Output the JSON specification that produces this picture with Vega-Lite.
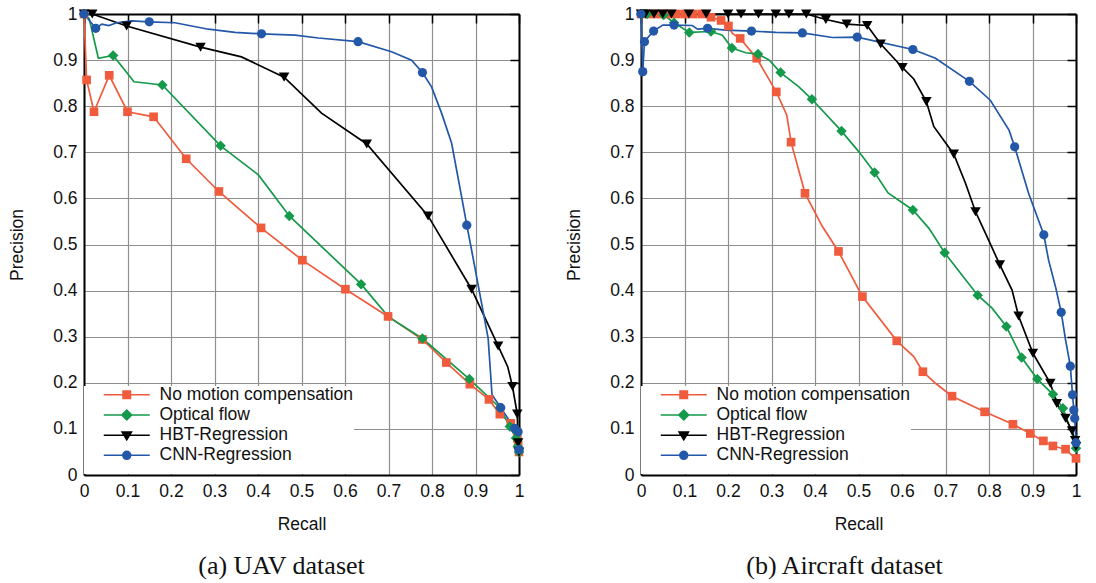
{
  "$schema": "https://vega.github.io/schema/vega-lite/v6.json",
  "background": "white",
  "padding": {"left": 8, "top": 5, "right": 5, "bottom": 5},
  "datasets": {
    "uav": [
      {"method": "No motion compensation", "recall": 0, "precision": 1, "marker": 1},
      {"method": "No motion compensation", "recall": 0.006, "precision": 0.857, "marker": 1},
      {"method": "No motion compensation", "recall": 0.023, "precision": 0.788, "marker": 1},
      {"method": "No motion compensation", "recall": 0.058, "precision": 0.867, "marker": 1},
      {"method": "No motion compensation", "recall": 0.1, "precision": 0.788, "marker": 1},
      {"method": "No motion compensation", "recall": 0.16, "precision": 0.777, "marker": 1},
      {"method": "No motion compensation", "recall": 0.235, "precision": 0.686, "marker": 1},
      {"method": "No motion compensation", "recall": 0.31, "precision": 0.615, "marker": 1},
      {"method": "No motion compensation", "recall": 0.407, "precision": 0.536, "marker": 1},
      {"method": "No motion compensation", "recall": 0.502, "precision": 0.466, "marker": 1},
      {"method": "No motion compensation", "recall": 0.601, "precision": 0.403, "marker": 1},
      {"method": "No motion compensation", "recall": 0.699, "precision": 0.344, "marker": 1},
      {"method": "No motion compensation", "recall": 0.778, "precision": 0.294, "marker": 1},
      {"method": "No motion compensation", "recall": 0.833, "precision": 0.244, "marker": 1},
      {"method": "No motion compensation", "recall": 0.887, "precision": 0.197, "marker": 1},
      {"method": "No motion compensation", "recall": 0.931, "precision": 0.164, "marker": 1},
      {"method": "No motion compensation", "recall": 0.956, "precision": 0.132, "marker": 1},
      {"method": "No motion compensation", "recall": 0.981, "precision": 0.112, "marker": 1},
      {"method": "No motion compensation", "recall": 0.996, "precision": 0.08, "marker": 1},
      {"method": "No motion compensation", "recall": 0.998, "precision": 0.065, "marker": 1},
      {"method": "No motion compensation", "recall": 1, "precision": 0.05, "marker": 1},
      {"method": "Optical flow", "recall": 0, "precision": 1, "marker": 1},
      {"method": "Optical flow", "recall": 0.012, "precision": 0.99, "marker": 0},
      {"method": "Optical flow", "recall": 0.033, "precision": 0.904, "marker": 0},
      {"method": "Optical flow", "recall": 0.067, "precision": 0.91, "marker": 1},
      {"method": "Optical flow", "recall": 0.115, "precision": 0.853, "marker": 0},
      {"method": "Optical flow", "recall": 0.18, "precision": 0.846, "marker": 1},
      {"method": "Optical flow", "recall": 0.314, "precision": 0.714, "marker": 1},
      {"method": "Optical flow", "recall": 0.401, "precision": 0.651, "marker": 0},
      {"method": "Optical flow", "recall": 0.472, "precision": 0.562, "marker": 1},
      {"method": "Optical flow", "recall": 0.637, "precision": 0.414, "marker": 1},
      {"method": "Optical flow", "recall": 0.7, "precision": 0.343, "marker": 0},
      {"method": "Optical flow", "recall": 0.778, "precision": 0.296, "marker": 1},
      {"method": "Optical flow", "recall": 0.886, "precision": 0.208, "marker": 1},
      {"method": "Optical flow", "recall": 0.956, "precision": 0.146, "marker": 1},
      {"method": "Optical flow", "recall": 0.979, "precision": 0.105, "marker": 1},
      {"method": "Optical flow", "recall": 0.993, "precision": 0.08, "marker": 1},
      {"method": "Optical flow", "recall": 0.997, "precision": 0.062, "marker": 1},
      {"method": "Optical flow", "recall": 1, "precision": 0.05, "marker": 1},
      {"method": "HBT-Regression", "recall": 0, "precision": 1, "marker": 1},
      {"method": "HBT-Regression", "recall": 0.019, "precision": 1, "marker": 1},
      {"method": "HBT-Regression", "recall": 0.098, "precision": 0.974, "marker": 1},
      {"method": "HBT-Regression", "recall": 0.268, "precision": 0.928, "marker": 1},
      {"method": "HBT-Regression", "recall": 0.362, "precision": 0.907, "marker": 0},
      {"method": "HBT-Regression", "recall": 0.46, "precision": 0.863, "marker": 1},
      {"method": "HBT-Regression", "recall": 0.546, "precision": 0.785, "marker": 0},
      {"method": "HBT-Regression", "recall": 0.65, "precision": 0.718, "marker": 1},
      {"method": "HBT-Regression", "recall": 0.791, "precision": 0.562, "marker": 1},
      {"method": "HBT-Regression", "recall": 0.891, "precision": 0.403, "marker": 1},
      {"method": "HBT-Regression", "recall": 0.952, "precision": 0.28, "marker": 1},
      {"method": "HBT-Regression", "recall": 0.974, "precision": 0.235, "marker": 0},
      {"method": "HBT-Regression", "recall": 0.985, "precision": 0.192, "marker": 1},
      {"method": "HBT-Regression", "recall": 0.996, "precision": 0.132, "marker": 1},
      {"method": "HBT-Regression", "recall": 0.998, "precision": 0.07, "marker": 1},
      {"method": "HBT-Regression", "recall": 1, "precision": 0.05, "marker": 1},
      {"method": "CNN-Regression", "recall": 0, "precision": 1, "marker": 1},
      {"method": "CNN-Regression", "recall": 0.027, "precision": 0.969, "marker": 1},
      {"method": "CNN-Regression", "recall": 0.041, "precision": 0.978, "marker": 0},
      {"method": "CNN-Regression", "recall": 0.057, "precision": 0.975, "marker": 0},
      {"method": "CNN-Regression", "recall": 0.075, "precision": 0.981, "marker": 0},
      {"method": "CNN-Regression", "recall": 0.11, "precision": 0.985, "marker": 0},
      {"method": "CNN-Regression", "recall": 0.15, "precision": 0.983, "marker": 1},
      {"method": "CNN-Regression", "recall": 0.209, "precision": 0.981, "marker": 0},
      {"method": "CNN-Regression", "recall": 0.286, "precision": 0.967, "marker": 0},
      {"method": "CNN-Regression", "recall": 0.347, "precision": 0.96, "marker": 0},
      {"method": "CNN-Regression", "recall": 0.408, "precision": 0.957, "marker": 1},
      {"method": "CNN-Regression", "recall": 0.485, "precision": 0.954, "marker": 0},
      {"method": "CNN-Regression", "recall": 0.539, "precision": 0.948, "marker": 0},
      {"method": "CNN-Regression", "recall": 0.63, "precision": 0.94, "marker": 1},
      {"method": "CNN-Regression", "recall": 0.707, "precision": 0.918, "marker": 0},
      {"method": "CNN-Regression", "recall": 0.753, "precision": 0.9, "marker": 0},
      {"method": "CNN-Regression", "recall": 0.778, "precision": 0.873, "marker": 1},
      {"method": "CNN-Regression", "recall": 0.799, "precision": 0.842, "marker": 0},
      {"method": "CNN-Regression", "recall": 0.822, "precision": 0.785, "marker": 0},
      {"method": "CNN-Regression", "recall": 0.845, "precision": 0.72, "marker": 0},
      {"method": "CNN-Regression", "recall": 0.868, "precision": 0.604, "marker": 0},
      {"method": "CNN-Regression", "recall": 0.88, "precision": 0.542, "marker": 1},
      {"method": "CNN-Regression", "recall": 0.891, "precision": 0.488, "marker": 0},
      {"method": "CNN-Regression", "recall": 0.929, "precision": 0.297, "marker": 0},
      {"method": "CNN-Regression", "recall": 0.938, "precision": 0.174, "marker": 0},
      {"method": "CNN-Regression", "recall": 0.958, "precision": 0.146, "marker": 1},
      {"method": "CNN-Regression", "recall": 0.99, "precision": 0.101, "marker": 1},
      {"method": "CNN-Regression", "recall": 0.998, "precision": 0.094, "marker": 1},
      {"method": "CNN-Regression", "recall": 0.999, "precision": 0.07, "marker": 0},
      {"method": "CNN-Regression", "recall": 1, "precision": 0.055, "marker": 1}
    ],
    "aircraft": [
      {"method": "No motion compensation", "recall": 0, "precision": 1, "marker": 1},
      {"method": "No motion compensation", "recall": 0.02, "precision": 1, "marker": 1},
      {"method": "No motion compensation", "recall": 0.04, "precision": 1, "marker": 1},
      {"method": "No motion compensation", "recall": 0.06, "precision": 1, "marker": 1},
      {"method": "No motion compensation", "recall": 0.08, "precision": 1, "marker": 1},
      {"method": "No motion compensation", "recall": 0.1, "precision": 1, "marker": 1},
      {"method": "No motion compensation", "recall": 0.12, "precision": 1, "marker": 1},
      {"method": "No motion compensation", "recall": 0.14, "precision": 1, "marker": 1},
      {"method": "No motion compensation", "recall": 0.161, "precision": 0.993, "marker": 1},
      {"method": "No motion compensation", "recall": 0.184, "precision": 0.986, "marker": 1},
      {"method": "No motion compensation", "recall": 0.201, "precision": 0.974, "marker": 1},
      {"method": "No motion compensation", "recall": 0.21, "precision": 0.958, "marker": 0},
      {"method": "No motion compensation", "recall": 0.228, "precision": 0.947, "marker": 1},
      {"method": "No motion compensation", "recall": 0.266, "precision": 0.904, "marker": 1},
      {"method": "No motion compensation", "recall": 0.311, "precision": 0.831, "marker": 1},
      {"method": "No motion compensation", "recall": 0.335, "precision": 0.781, "marker": 0},
      {"method": "No motion compensation", "recall": 0.345, "precision": 0.722, "marker": 1},
      {"method": "No motion compensation", "recall": 0.377, "precision": 0.611, "marker": 1},
      {"method": "No motion compensation", "recall": 0.417, "precision": 0.539, "marker": 0},
      {"method": "No motion compensation", "recall": 0.454, "precision": 0.485, "marker": 1},
      {"method": "No motion compensation", "recall": 0.509, "precision": 0.387, "marker": 1},
      {"method": "No motion compensation", "recall": 0.588, "precision": 0.291, "marker": 1},
      {"method": "No motion compensation", "recall": 0.627, "precision": 0.257, "marker": 0},
      {"method": "No motion compensation", "recall": 0.648, "precision": 0.224, "marker": 1},
      {"method": "No motion compensation", "recall": 0.677, "precision": 0.199, "marker": 0},
      {"method": "No motion compensation", "recall": 0.715, "precision": 0.171, "marker": 1},
      {"method": "No motion compensation", "recall": 0.79, "precision": 0.137, "marker": 1},
      {"method": "No motion compensation", "recall": 0.855, "precision": 0.11, "marker": 1},
      {"method": "No motion compensation", "recall": 0.895, "precision": 0.09, "marker": 1},
      {"method": "No motion compensation", "recall": 0.925, "precision": 0.074, "marker": 1},
      {"method": "No motion compensation", "recall": 0.947, "precision": 0.063, "marker": 1},
      {"method": "No motion compensation", "recall": 0.976, "precision": 0.056, "marker": 1},
      {"method": "No motion compensation", "recall": 0.987, "precision": 0.046, "marker": 0},
      {"method": "No motion compensation", "recall": 1, "precision": 0.036, "marker": 1},
      {"method": "Optical flow", "recall": 0, "precision": 1, "marker": 1},
      {"method": "Optical flow", "recall": 0.014, "precision": 1, "marker": 1},
      {"method": "Optical flow", "recall": 0.052, "precision": 0.998, "marker": 1},
      {"method": "Optical flow", "recall": 0.076, "precision": 0.981, "marker": 1},
      {"method": "Optical flow", "recall": 0.111, "precision": 0.96, "marker": 1},
      {"method": "Optical flow", "recall": 0.161, "precision": 0.962, "marker": 1},
      {"method": "Optical flow", "recall": 0.187, "precision": 0.954, "marker": 0},
      {"method": "Optical flow", "recall": 0.209, "precision": 0.926, "marker": 1},
      {"method": "Optical flow", "recall": 0.241, "precision": 0.916, "marker": 0},
      {"method": "Optical flow", "recall": 0.269, "precision": 0.913, "marker": 1},
      {"method": "Optical flow", "recall": 0.295, "precision": 0.9, "marker": 0},
      {"method": "Optical flow", "recall": 0.321, "precision": 0.873, "marker": 1},
      {"method": "Optical flow", "recall": 0.363, "precision": 0.842, "marker": 0},
      {"method": "Optical flow", "recall": 0.393, "precision": 0.815, "marker": 1},
      {"method": "Optical flow", "recall": 0.461, "precision": 0.746, "marker": 1},
      {"method": "Optical flow", "recall": 0.501, "precision": 0.701, "marker": 0},
      {"method": "Optical flow", "recall": 0.537, "precision": 0.656, "marker": 1},
      {"method": "Optical flow", "recall": 0.568, "precision": 0.612, "marker": 0},
      {"method": "Optical flow", "recall": 0.625, "precision": 0.575, "marker": 1},
      {"method": "Optical flow", "recall": 0.662, "precision": 0.535, "marker": 0},
      {"method": "Optical flow", "recall": 0.698, "precision": 0.482, "marker": 1},
      {"method": "Optical flow", "recall": 0.774, "precision": 0.39, "marker": 1},
      {"method": "Optical flow", "recall": 0.807, "precision": 0.362, "marker": 0},
      {"method": "Optical flow", "recall": 0.84, "precision": 0.322, "marker": 1},
      {"method": "Optical flow", "recall": 0.875, "precision": 0.255, "marker": 1},
      {"method": "Optical flow", "recall": 0.911, "precision": 0.208, "marker": 1},
      {"method": "Optical flow", "recall": 0.947, "precision": 0.175, "marker": 1},
      {"method": "Optical flow", "recall": 0.97, "precision": 0.145, "marker": 1},
      {"method": "Optical flow", "recall": 0.991, "precision": 0.09, "marker": 0},
      {"method": "Optical flow", "recall": 1, "precision": 0.058, "marker": 1},
      {"method": "HBT-Regression", "recall": 0, "precision": 1, "marker": 1},
      {"method": "HBT-Regression", "recall": 0.01, "precision": 1, "marker": 1},
      {"method": "HBT-Regression", "recall": 0.03, "precision": 1, "marker": 1},
      {"method": "HBT-Regression", "recall": 0.05, "precision": 1, "marker": 1},
      {"method": "HBT-Regression", "recall": 0.07, "precision": 1, "marker": 1},
      {"method": "HBT-Regression", "recall": 0.11, "precision": 1, "marker": 1},
      {"method": "HBT-Regression", "recall": 0.15, "precision": 1, "marker": 1},
      {"method": "HBT-Regression", "recall": 0.2, "precision": 1, "marker": 1},
      {"method": "HBT-Regression", "recall": 0.23, "precision": 1, "marker": 1},
      {"method": "HBT-Regression", "recall": 0.27, "precision": 1, "marker": 1},
      {"method": "HBT-Regression", "recall": 0.31, "precision": 1, "marker": 1},
      {"method": "HBT-Regression", "recall": 0.34, "precision": 1, "marker": 1},
      {"method": "HBT-Regression", "recall": 0.38, "precision": 1, "marker": 1},
      {"method": "HBT-Regression", "recall": 0.425, "precision": 0.988, "marker": 1},
      {"method": "HBT-Regression", "recall": 0.473, "precision": 0.978, "marker": 1},
      {"method": "HBT-Regression", "recall": 0.52, "precision": 0.975, "marker": 1},
      {"method": "HBT-Regression", "recall": 0.551, "precision": 0.935, "marker": 1},
      {"method": "HBT-Regression", "recall": 0.601, "precision": 0.884, "marker": 1},
      {"method": "HBT-Regression", "recall": 0.627, "precision": 0.859, "marker": 0},
      {"method": "HBT-Regression", "recall": 0.656, "precision": 0.81, "marker": 1},
      {"method": "HBT-Regression", "recall": 0.673, "precision": 0.756, "marker": 0},
      {"method": "HBT-Regression", "recall": 0.719, "precision": 0.696, "marker": 1},
      {"method": "HBT-Regression", "recall": 0.746, "precision": 0.633, "marker": 0},
      {"method": "HBT-Regression", "recall": 0.769, "precision": 0.571, "marker": 1},
      {"method": "HBT-Regression", "recall": 0.792, "precision": 0.524, "marker": 0},
      {"method": "HBT-Regression", "recall": 0.825, "precision": 0.456, "marker": 1},
      {"method": "HBT-Regression", "recall": 0.853, "precision": 0.401, "marker": 0},
      {"method": "HBT-Regression", "recall": 0.868, "precision": 0.345, "marker": 1},
      {"method": "HBT-Regression", "recall": 0.901, "precision": 0.264, "marker": 1},
      {"method": "HBT-Regression", "recall": 0.941, "precision": 0.199, "marker": 1},
      {"method": "HBT-Regression", "recall": 0.956, "precision": 0.155, "marker": 1},
      {"method": "HBT-Regression", "recall": 0.976, "precision": 0.123, "marker": 1},
      {"method": "HBT-Regression", "recall": 0.991, "precision": 0.096, "marker": 1},
      {"method": "HBT-Regression", "recall": 0.998, "precision": 0.075, "marker": 1},
      {"method": "HBT-Regression", "recall": 1, "precision": 0.062, "marker": 1},
      {"method": "CNN-Regression", "recall": 0, "precision": 1, "marker": 1},
      {"method": "CNN-Regression", "recall": 0.004, "precision": 0.875, "marker": 1},
      {"method": "CNN-Regression", "recall": 0.008, "precision": 0.94, "marker": 1},
      {"method": "CNN-Regression", "recall": 0.012, "precision": 0.945, "marker": 0},
      {"method": "CNN-Regression", "recall": 0.029, "precision": 0.963, "marker": 1},
      {"method": "CNN-Regression", "recall": 0.05, "precision": 0.976, "marker": 0},
      {"method": "CNN-Regression", "recall": 0.076, "precision": 0.976, "marker": 1},
      {"method": "CNN-Regression", "recall": 0.118, "precision": 0.975, "marker": 0},
      {"method": "CNN-Regression", "recall": 0.13, "precision": 0.967, "marker": 0},
      {"method": "CNN-Regression", "recall": 0.153, "precision": 0.969, "marker": 1},
      {"method": "CNN-Regression", "recall": 0.195, "precision": 0.965, "marker": 0},
      {"method": "CNN-Regression", "recall": 0.254, "precision": 0.963, "marker": 1},
      {"method": "CNN-Regression", "recall": 0.31, "precision": 0.96, "marker": 0},
      {"method": "CNN-Regression", "recall": 0.371, "precision": 0.959, "marker": 1},
      {"method": "CNN-Regression", "recall": 0.44, "precision": 0.949, "marker": 0},
      {"method": "CNN-Regression", "recall": 0.497, "precision": 0.95, "marker": 1},
      {"method": "CNN-Regression", "recall": 0.625, "precision": 0.923, "marker": 1},
      {"method": "CNN-Regression", "recall": 0.677, "precision": 0.904, "marker": 0},
      {"method": "CNN-Regression", "recall": 0.755, "precision": 0.854, "marker": 1},
      {"method": "CNN-Regression", "recall": 0.803, "precision": 0.813, "marker": 0},
      {"method": "CNN-Regression", "recall": 0.846, "precision": 0.748, "marker": 0},
      {"method": "CNN-Regression", "recall": 0.859, "precision": 0.712, "marker": 1},
      {"method": "CNN-Regression", "recall": 0.891, "precision": 0.611, "marker": 0},
      {"method": "CNN-Regression", "recall": 0.926, "precision": 0.521, "marker": 1},
      {"method": "CNN-Regression", "recall": 0.937, "precision": 0.466, "marker": 0},
      {"method": "CNN-Regression", "recall": 0.953, "precision": 0.408, "marker": 0},
      {"method": "CNN-Regression", "recall": 0.966, "precision": 0.353, "marker": 1},
      {"method": "CNN-Regression", "recall": 0.976, "precision": 0.293, "marker": 0},
      {"method": "CNN-Regression", "recall": 0.987, "precision": 0.236, "marker": 1},
      {"method": "CNN-Regression", "recall": 0.992, "precision": 0.174, "marker": 1},
      {"method": "CNN-Regression", "recall": 0.995, "precision": 0.141, "marker": 1},
      {"method": "CNN-Regression", "recall": 0.997, "precision": 0.123, "marker": 1},
      {"method": "CNN-Regression", "recall": 0.999, "precision": 0.09, "marker": 0},
      {"method": "CNN-Regression", "recall": 1, "precision": 0.07, "marker": 1}
    ]
  },
  "config": {
    "font": "Liberation Sans",
    "view": {"stroke": null},
    "concat": {"spacing": 40},
    "axis": {
      "labelFont": "Liberation Sans", "labelFontSize": 17.5, "labelColor": "#111111",
      "titleFont": "Liberation Sans", "titleFontSize": 17.5, "titleFontWeight": "normal", "titleColor": "#111111",
      "gridColor": "#8f8f8f", "gridWidth": 1.2, "gridOpacity": 1,
      "domainColor": "#000000", "domainWidth": 2, "format": "~g",
      "labelFlush": false, "labelOverlap": false, "ticks": false
    },
    "legend": {
      "labelFont": "Liberation Sans", "labelFontSize": 17.5, "labelColor": "#111111", "labelLimit": 400
    }
  },
  "resolve": {"scale": {"color": "independent", "shape": "independent", "fill": "independent", "stroke": "independent"}},
  "hconcat": [
    {
      "width": 435, "height": 461,
      "data": {"name": "uav"},
      "title": {"text": "(a) UAV dataset", "orient": "bottom", "anchor": "middle", "frame": "group", "font": "Liberation Serif", "fontSize": 26, "fontWeight": "normal", "color": "#111111", "offset": 20, "dx": -20},
      "layer": [
        {
          "mark": {"type": "line", "strokeWidth": 1.7},
          "encoding": {
            "x": {"field": "recall", "type": "quantitative", "scale": {"domain": [0, 1], "nice": false, "zero": false},
                  "axis": {"orient": "bottom", "title": "Recall", "values": [0, 0.1, 0.2, 0.3, 0.4, 0.5, 0.6, 0.7, 0.8, 0.9, 1], "grid": true, "labelPadding": 7, "titlePadding": 16}},
            "y": {"field": "precision", "type": "quantitative", "scale": {"domain": [0, 1], "nice": false, "zero": false},
                  "axis": {"orient": "left", "title": "Precision", "values": [0, 0.1, 0.2, 0.3, 0.4, 0.5, 0.6, 0.7, 0.8, 0.9, 1], "grid": true, "labelPadding": 7, "titlePadding": 26}},
            "color": {"field": "method", "type": "nominal",
                      "scale": {"domain": ["CNN-Regression", "HBT-Regression", "No motion compensation", "Optical flow"], "range": ["#2357a8", "#000000", "#ef5b3c", "#15994a"]},
                      "legend": null}
          }
        },
        {
          "transform": [{"filter": "datum.marker == 1 && datum.method == 'No motion compensation'"}],
          "mark": {"type": "point", "shape": "square", "filled": true, "opacity": 1, "size": 75, "color": "#ef5b3c"},
          "encoding": {
            "x": {"field": "recall", "type": "quantitative",
                  "axis": {"orient": "top", "title": null, "labels": false, "grid": false, "ticks": true, "tickSize": -9, "tickColor": "#000000", "tickWidth": 1.5, "values": [0, 0.1, 0.2, 0.3, 0.4, 0.5, 0.6, 0.7, 0.8, 0.9, 1]}},
            "y": {"field": "precision", "type": "quantitative",
                  "axis": {"orient": "right", "title": null, "labels": false, "grid": false, "ticks": true, "tickSize": -9, "tickColor": "#000000", "tickWidth": 1.5, "values": [0, 0.1, 0.2, 0.3, 0.4, 0.5, 0.6, 0.7, 0.8, 0.9, 1]}}
          }
        },
        {
          "transform": [{"filter": "datum.marker == 1 && datum.method == 'Optical flow'"}],
          "mark": {"type": "point", "shape": "diamond", "filled": true, "opacity": 1, "size": 110, "color": "#15994a"},
          "encoding": {
            "x": {"field": "recall", "type": "quantitative", "axis": null},
            "y": {"field": "precision", "type": "quantitative", "axis": null}
          }
        },
        {
          "transform": [{"filter": "datum.marker == 1 && datum.method == 'HBT-Regression'"}],
          "mark": {"type": "point", "shape": "triangle-down", "filled": true, "opacity": 1, "size": 110, "color": "#000000"},
          "encoding": {
            "x": {"field": "recall", "type": "quantitative", "axis": null},
            "y": {"field": "precision", "type": "quantitative", "axis": null}
          }
        },
        {
          "transform": [{"filter": "datum.marker == 1 && datum.method == 'CNN-Regression'"}],
          "mark": {"type": "point", "shape": "circle", "filled": true, "opacity": 1, "size": 85, "color": "#2357a8"},
          "encoding": {
            "x": {"field": "recall", "type": "quantitative", "axis": null},
            "y": {"field": "precision", "type": "quantitative", "axis": null}
          }
        },
        {
          "transform": [{"filter": "false"}],
          "mark": {"type": "point", "filled": true, "opacity": 1, "size": 100, "strokeWidth": 2},
          "encoding": {
            "x": {"field": "recall", "type": "quantitative", "axis": null},
            "y": {"field": "precision", "type": "quantitative", "axis": null},
            "shape": {"field": "method", "type": "nominal",
                      "scale": {"domain": ["No motion compensation", "Optical flow", "HBT-Regression", "CNN-Regression"],
                                "range": ["M-4.6,0H4.6M-0.75,-0.75H0.75V0.75H-0.75Z", "M-4.6,0H4.6M0,-1L1,0L0,1L-1,0Z", "M-4.6,0H4.6M-0.95,-0.65H0.95L0,0.95Z", "M-4.6,0H4.6M-0.8,0A0.8,0.8,0,1,0,0.8,0A0.8,0.8,0,1,0,-0.8,0Z"]},
                      "legend": {"orient": "none", "legendX": 0, "legendY": 372, "title": " ", "titleOrient": "bottom", "titleFontSize": 8, "titlePadding": 2, "padding": 0, "fillColor": "white", "symbolOffset": 34, "labelOffset": 24, "rowPadding": 1.2}},
            "fill": {"field": "method", "type": "nominal",
                     "scale": {"domain": ["No motion compensation", "Optical flow", "HBT-Regression", "CNN-Regression"], "range": ["#ef5b3c", "#15994a", "#000000", "#2357a8"]},
                     "legend": {"orient": "none", "legendX": 0, "legendY": 372, "title": " ", "titleOrient": "bottom", "titleFontSize": 8, "titlePadding": 2, "padding": 0, "fillColor": "white", "symbolOffset": 34, "labelOffset": 24, "rowPadding": 1.2}},
            "stroke": {"field": "method", "type": "nominal",
                       "scale": {"domain": ["No motion compensation", "Optical flow", "HBT-Regression", "CNN-Regression"], "range": ["#ef5b3c", "#15994a", "#000000", "#2357a8"]},
                       "legend": {"orient": "none", "legendX": 0, "legendY": 372, "title": " ", "titleOrient": "bottom", "titleFontSize": 8, "titlePadding": 2, "padding": 0, "fillColor": "white", "symbolOffset": 34, "labelOffset": 24, "rowPadding": 1.2}}
          }
        }
      ]
    },
    {
      "width": 435, "height": 461,
      "data": {"name": "aircraft"},
      "title": {"text": "(b) Aircraft dataset", "orient": "bottom", "anchor": "middle", "frame": "group", "font": "Liberation Serif", "fontSize": 26, "fontWeight": "normal", "color": "#111111", "offset": 20, "dx": -14},
      "layer": [
        {
          "mark": {"type": "line", "strokeWidth": 1.7},
          "encoding": {
            "x": {"field": "recall", "type": "quantitative", "scale": {"domain": [0, 1], "nice": false, "zero": false},
                  "axis": {"orient": "bottom", "title": "Recall", "values": [0, 0.1, 0.2, 0.3, 0.4, 0.5, 0.6, 0.7, 0.8, 0.9, 1], "grid": true, "labelPadding": 7, "titlePadding": 16}},
            "y": {"field": "precision", "type": "quantitative", "scale": {"domain": [0, 1], "nice": false, "zero": false},
                  "axis": {"orient": "left", "title": "Precision", "values": [0, 0.1, 0.2, 0.3, 0.4, 0.5, 0.6, 0.7, 0.8, 0.9, 1], "grid": true, "labelPadding": 7, "titlePadding": 26}},
            "color": {"field": "method", "type": "nominal",
                      "scale": {"domain": ["CNN-Regression", "HBT-Regression", "No motion compensation", "Optical flow"], "range": ["#2357a8", "#000000", "#ef5b3c", "#15994a"]},
                      "legend": null}
          }
        },
        {
          "transform": [{"filter": "datum.marker == 1 && datum.method == 'No motion compensation'"}],
          "mark": {"type": "point", "shape": "square", "filled": true, "opacity": 1, "size": 75, "color": "#ef5b3c"},
          "encoding": {
            "x": {"field": "recall", "type": "quantitative",
                  "axis": {"orient": "top", "title": null, "labels": false, "grid": false, "ticks": true, "tickSize": -9, "tickColor": "#000000", "tickWidth": 1.5, "values": [0, 0.1, 0.2, 0.3, 0.4, 0.5, 0.6, 0.7, 0.8, 0.9, 1]}},
            "y": {"field": "precision", "type": "quantitative",
                  "axis": {"orient": "right", "title": null, "labels": false, "grid": false, "ticks": true, "tickSize": -9, "tickColor": "#000000", "tickWidth": 1.5, "values": [0, 0.1, 0.2, 0.3, 0.4, 0.5, 0.6, 0.7, 0.8, 0.9, 1]}}
          }
        },
        {
          "transform": [{"filter": "datum.marker == 1 && datum.method == 'Optical flow'"}],
          "mark": {"type": "point", "shape": "diamond", "filled": true, "opacity": 1, "size": 110, "color": "#15994a"},
          "encoding": {
            "x": {"field": "recall", "type": "quantitative", "axis": null},
            "y": {"field": "precision", "type": "quantitative", "axis": null}
          }
        },
        {
          "transform": [{"filter": "datum.marker == 1 && datum.method == 'HBT-Regression'"}],
          "mark": {"type": "point", "shape": "triangle-down", "filled": true, "opacity": 1, "size": 110, "color": "#000000"},
          "encoding": {
            "x": {"field": "recall", "type": "quantitative", "axis": null},
            "y": {"field": "precision", "type": "quantitative", "axis": null}
          }
        },
        {
          "transform": [{"filter": "datum.marker == 1 && datum.method == 'CNN-Regression'"}],
          "mark": {"type": "point", "shape": "circle", "filled": true, "opacity": 1, "size": 85, "color": "#2357a8"},
          "encoding": {
            "x": {"field": "recall", "type": "quantitative", "axis": null},
            "y": {"field": "precision", "type": "quantitative", "axis": null}
          }
        },
        {
          "transform": [{"filter": "false"}],
          "mark": {"type": "point", "filled": true, "opacity": 1, "size": 100, "strokeWidth": 2},
          "encoding": {
            "x": {"field": "recall", "type": "quantitative", "axis": null},
            "y": {"field": "precision", "type": "quantitative", "axis": null},
            "shape": {"field": "method", "type": "nominal",
                      "scale": {"domain": ["No motion compensation", "Optical flow", "HBT-Regression", "CNN-Regression"],
                                "range": ["M-4.6,0H4.6M-0.75,-0.75H0.75V0.75H-0.75Z", "M-4.6,0H4.6M0,-1L1,0L0,1L-1,0Z", "M-4.6,0H4.6M-0.95,-0.65H0.95L0,0.95Z", "M-4.6,0H4.6M-0.8,0A0.8,0.8,0,1,0,0.8,0A0.8,0.8,0,1,0,-0.8,0Z"]},
                      "legend": {"orient": "none", "legendX": 0, "legendY": 372, "title": " ", "titleOrient": "bottom", "titleFontSize": 8, "titlePadding": 2, "padding": 0, "fillColor": "white", "symbolOffset": 34, "labelOffset": 24, "rowPadding": 1.2}},
            "fill": {"field": "method", "type": "nominal",
                     "scale": {"domain": ["No motion compensation", "Optical flow", "HBT-Regression", "CNN-Regression"], "range": ["#ef5b3c", "#15994a", "#000000", "#2357a8"]},
                     "legend": {"orient": "none", "legendX": 0, "legendY": 372, "title": " ", "titleOrient": "bottom", "titleFontSize": 8, "titlePadding": 2, "padding": 0, "fillColor": "white", "symbolOffset": 34, "labelOffset": 24, "rowPadding": 1.2}},
            "stroke": {"field": "method", "type": "nominal",
                       "scale": {"domain": ["No motion compensation", "Optical flow", "HBT-Regression", "CNN-Regression"], "range": ["#ef5b3c", "#15994a", "#000000", "#2357a8"]},
                       "legend": {"orient": "none", "legendX": 0, "legendY": 372, "title": " ", "titleOrient": "bottom", "titleFontSize": 8, "titlePadding": 2, "padding": 0, "fillColor": "white", "symbolOffset": 34, "labelOffset": 24, "rowPadding": 1.2}}
          }
        }
      ]
    }
  ]
}
